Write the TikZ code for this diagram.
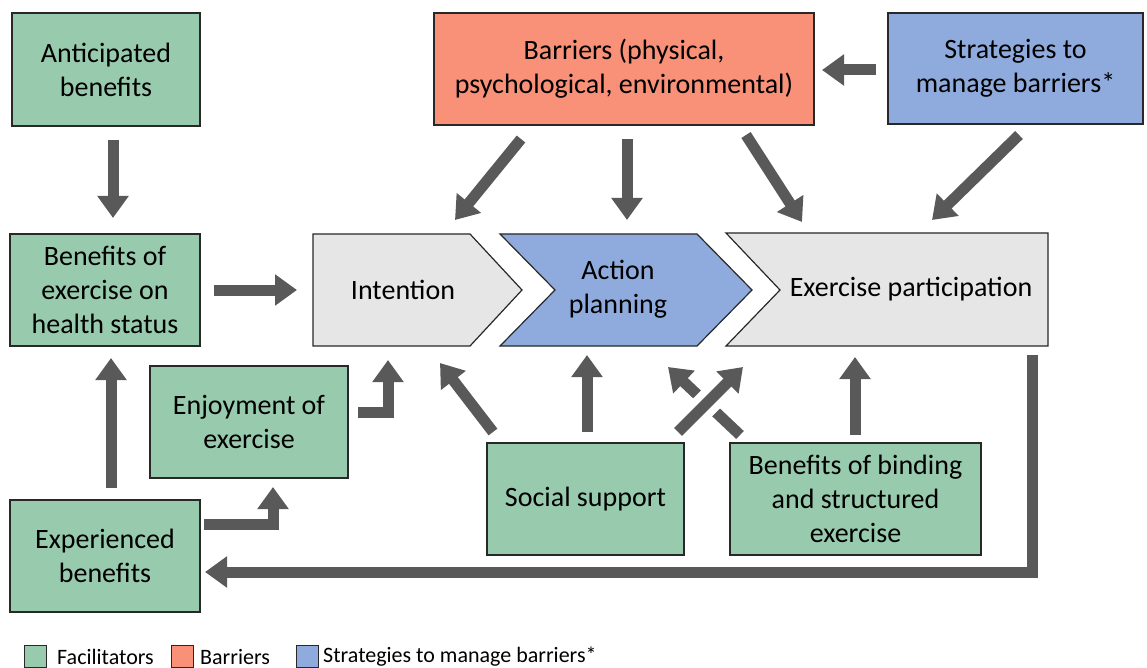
\documentclass[tikz,border=0pt]{standalone}
\usepackage{fontspec}
\setmainfont{Carlito}
\usetikzlibrary{arrows.meta,calc}
\definecolor{facil}{RGB}{152,202,174}
\definecolor{barr}{RGB}{248,145,120}
\definecolor{strat}{RGB}{143,170,220}
\definecolor{chev}{RGB}{231,230,230}
\definecolor{arrowgray}{RGB}{89,89,89}
\definecolor{edge}{RGB}{40,40,40}
\tikzset{
  box/.style={draw=edge, line width=1.2pt, inner sep=0pt, align=center,
    font=\fontsize{28}{34}\selectfont},
  fbox/.style={box, fill=facil},
  txt/.style={inner sep=0pt, align=center, font=\fontsize{28}{34}\selectfont},
  shapeline/.style={draw=edge, line width=1.2pt},
  arr/.style={draw=arrowgray, line width=11pt, line join=miter,
    -{Triangle[width=30pt,length=22pt]}},
  legbox/.style={draw=edge, line width=1pt, minimum width=22pt, minimum height=22pt, inner sep=0pt},
  legtxt/.style={inner sep=0pt, anchor=west, font=\fontsize{22}{26}\selectfont}
}
\begin{document}
\begin{tikzpicture}[x=1pt,y=-1pt]
\useasboundingbox (0,0) rectangle (1147,668);
% chevrons
\filldraw[shapeline, fill=chev] (313,234) -- (470,234) -- (522,290) -- (470,346) -- (313,346) -- cycle;
\filldraw[shapeline, fill=strat] (500,234) -- (697,234) -- (752,290) -- (697,346) -- (500,346) -- (555,290) -- cycle;
\filldraw[shapeline, fill=chev] (726,233) -- (1048,233) -- (1048,346) -- (726,346) -- (780,290) -- cycle;
\node[txt] (int) at (403,290) {Intention};
\node[txt] (act) at (618,289) {Action\\planning};
\node[txt] (exe) at (911,289) {Exercise participation};
% boxes
\node[fbox, minimum width=188pt, minimum height=113pt] (ant) at (106,69.5) {Anticipated\\benefits};
\node[box, fill=barr, minimum width=380pt, minimum height=112pt] (bar) at (624,69) {Barriers (physical,\\psychological, environmental)};
\node[box, fill=strat, minimum width=255pt, minimum height=111pt] (str) at (1015.5,68.5) {Strategies to\\manage barriers*};
\node[fbox, minimum width=190pt, minimum height=112pt] (ben) at (105,290) {Benefits of\\exercise on\\health status};
\node[fbox, minimum width=198pt, minimum height=112pt] (enj) at (249,422) {Enjoyment of\\exercise};
\node[fbox, minimum width=197pt, minimum height=112pt] (soc) at (585.5,499) {Social support};
\node[fbox, minimum width=251pt, minimum height=112pt] (bnd) at (855.5,499) {Benefits of binding\\and structured\\exercise};
\node[fbox, minimum width=190pt, minimum height=112pt] (exp) at (105,556) {Experienced\\benefits};
% arrows
\draw[arr] ([shift={(7,70.5)}]ant.center) -- ([shift={(8,-72)}]ben.center);
\draw[arr] ([shift={(109,0)}]ben.center) -- ([shift={(-106,0)}]int.center);
\draw[arr] ([shift={(-103,70)}]bar.center) -- ([shift={(52,-70)}]int.center);
\draw[arr] ([shift={(3,70)}]bar.center) -- ([shift={(9,-69)}]act.center);
\draw[arr] ([shift={(122,66)}]bar.center) -- ([shift={(-109,-67)}]exe.center);
\draw[arr] ([shift={(-139.5,1.5)}]str.center) -- ([shift={(198,1)}]bar.center);
\draw[arr] ([shift={(3.5,66.5)}]str.center) -- ([shift={(21,-69)}]exe.center);
\draw[arr] ([shift={(109,-10)}]enj.center) -| ([shift={(-15,70)}]int.center);
\draw[arr] ([shift={(99,-32)}]exp.center) -| ([shift={(24,65)}]enj.center);
\draw[arr] ([shift={(6,-68)}]exp.center) -- ([shift={(6,68)}]ben.center);
\draw[arr] ([shift={(-92.5,-67)}]soc.center) -- ([shift={(37,73)}]int.center);
\draw[arr] ([shift={(1.5,-67)}]soc.center) -- ([shift={(-31,66)}]act.center);
\draw[arr] ([shift={(-115.5,-64)}]bnd.center) -- ([shift={(50,78)}]act.center);
\coordinate (cs) at ([shift={(92.5,-67)}]soc.center);
\coordinate (ct) at ([shift={(-168,78)}]exe.center);
\draw[white, line width=26pt] ($(cs)!0.3!(ct)$) -- ($(cs)!0.62!(ct)$);
\draw[arr] (cs) -- (ct);
\draw[arr] ([shift={(-0.5,-64)}]bnd.center) -- ([shift={(-56,68)}]exe.center);
\draw[arr] ([shift={(121,66)}]exe.center) |- ([shift={(100,16)}]exp.center);
% legend
\node[legbox, fill=facil] (lg1) at (35,656) {};
\node[legtxt] (lt1) at (57,657) {Facilitators};
\node[legbox, fill=barr] (lg2) at (182,656) {};
\node[legtxt] (lt2) at (200,657) {Barriers};
\node[legbox, fill=strat] (lg3) at (307,656) {};
\node[legtxt] (lt3) at (323,657) {Strategies to manage barriers*};
\end{tikzpicture}
\end{document}
